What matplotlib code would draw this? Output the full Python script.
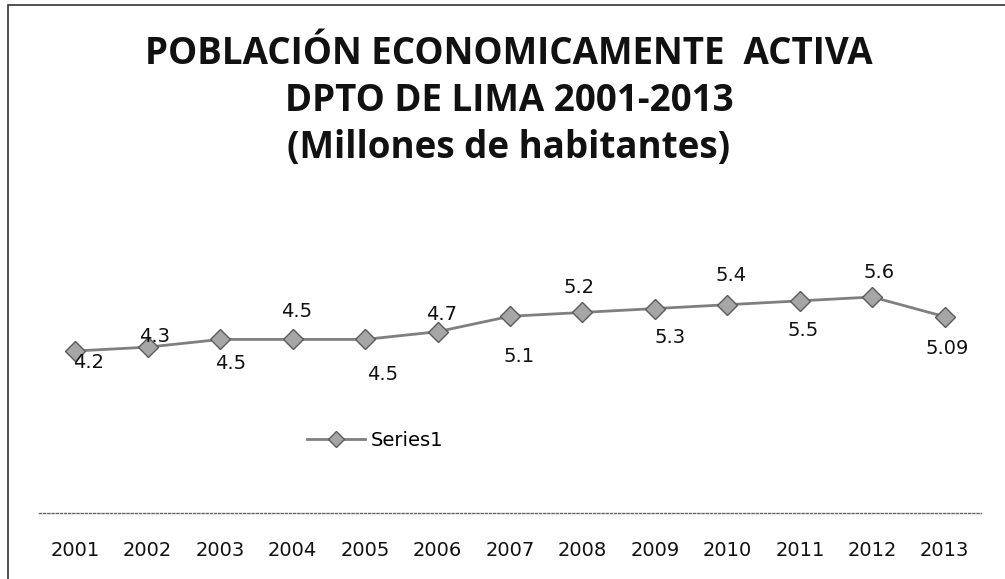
import matplotlib.pyplot as plt
from matplotlib.patches import Rectangle

# data
years = ['2001', '2002', '2003', '2004', '2005', '2006', '2007',
         '2008', '2009', '2010', '2011', '2012', '2013']
pea = [4.2, 4.3, 4.5, 4.5, 4.5, 4.7, 5.1, 5.2, 5.3, 5.4, 5.5, 5.6, 5.09]
value_labels = ['4.2', '4.3', '4.5', '4.5', '4.5', '4.7', '5.1',
                '5.2', '5.3', '5.4', '5.5', '5.6', '5.09']

# label offsets in pixels (dx, dy), as placed in the original
label_offsets = [(13, -12), (7, 11), (10, -24), (4, 28), (18, -35), (4, 17),
                 (9, -40), (-3, 25), (15, -29), (4, 29), (3, -30), (7, 25),
                 (2, -32)]

W, H = 1005, 579
fig = plt.figure(figsize=(W / 100, H / 100), dpi=100)
fig.patch.set_facecolor('white')

# chart border (left and top edges visible)
fig.patches.append(Rectangle((8 / W, -0.1), 1.2, (H - 5) / H + 0.1,
                             transform=fig.transFigure, fill=False,
                             edgecolor='#333333', linewidth=1.2))

fig.text(509 / W, 1 - 101 / H,
         'POBLACIÓN ECONOMICAMENTE  ACTIVA\nDPTO DE LIMA 2001-2013\n(Millones de habitantes)',
         ha='center', va='center', fontsize=26.5, fontweight='bold',
         family='Open Sans', linespacing=1.32, color='#111111')

ax = fig.add_axes([39 / W, (H - 513) / H, 942 / W, 270 / H])
x = list(range(len(years)))
line, = ax.plot(x, pea, color='#7f7f7f', linewidth=2.0, marker='D',
                markersize=10, markerfacecolor='#a6a6a6',
                markeredgecolor='#5a5a5a', markeredgewidth=1.0,
                label='Series1')

for xi, yi, txt, (dx, dy) in zip(x, pea, value_labels, label_offsets):
    ax.annotate(txt, (xi, yi), xytext=(dx, dy), textcoords='offset pixels',
                ha='center', va='center', fontsize=14, family='DejaVu Sans',
                color='#111111')

ax.set_xlim(-0.5, len(years) - 0.5)
ax.set_ylim(0, 7)
ax.set_xticks(x)
ax.set_xticklabels(years, fontsize=14, family='DejaVu Sans', color='#111111')
ax.tick_params(axis='x', length=0, pad=20)
ax.set_yticks([])
for side in ['left', 'right', 'top']:
    ax.spines[side].set_visible(False)
ax.spines['bottom'].set_color('#666666')
ax.spines['bottom'].set_linewidth(1.0)
ax.spines['bottom'].set_linestyle((0, (1.5, 1.5)))
ax.patch.set_alpha(0)

leg = fig.legend(handles=[line], loc='center', bbox_to_anchor=(375 / W, 1 - 440 / H),
                 frameon=False, handlelength=3.0, markerscale=0.8,
                 handletextpad=0.3, prop={'family': 'DejaVu Sans', 'size': 14})

fig.savefig('out.png', dpi=100)
